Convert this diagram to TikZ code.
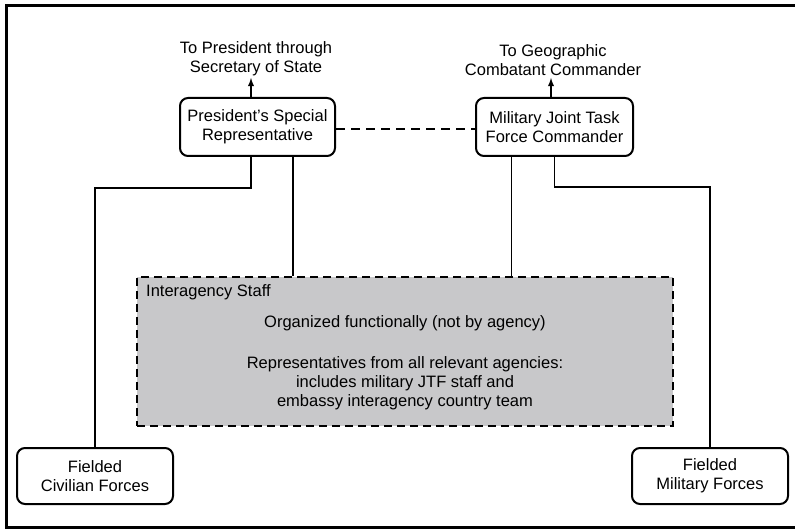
\documentclass[tikz,border=0pt]{standalone}
\usepackage{fontspec}
\setmainfont{Liberation Sans}
\usepackage{tikz}
\usetikzlibrary{shapes}
\usetikzlibrary{calc}
\usetikzlibrary{arrows}
\usetikzlibrary{positioning}

\definecolor{staffgray}{RGB}{200,200,202}

\begin{document}
\begin{tikzpicture}[x=1pt, y=-1pt,
		font=\fontsize{16.5}{19.2}\selectfont,
		box/.style={draw, rounded corners=8pt, line width=2pt, align=center, inner sep=0pt},
		link/.style={line width=1.8pt},
		label/.style={align=center, inner sep=2pt}]
				\useasboundingbox (0,0) rectangle (795,529);
				% Frame
				\draw[line width=2.5pt] (797,5.5) -- (6.5,5.5) -- (6.5,527.5) -- (797,527.5);
				
				% Nodes
				\node[box, minimum width=155pt, minimum height=58pt] (psr) at (257.5,127) {President's Special\\Representative};
				\node[box, minimum width=157pt, minimum height=58pt] (jtf) at (554.5,127) {Military Joint Task\\Force Commander};
				\node[box, minimum width=156pt, minimum height=56pt] (civ) at (95,476) {Fielded\\Civilian Forces};
				\node[box, minimum width=156pt, minimum height=56pt] (mil) at (710,476) {Fielded\\Military Forces};
				
				\node[label, anchor=south] (pres) at (256,78) {To President through\\Secretary of State};
				\node[label, anchor=south] (gcc) at (553,78) {To Geographic\\Combatant Commander};
				
				% Interagency staff
				\node[draw, fill=staffgray, line width=2.8pt, dash pattern=on 8pt off 5pt, minimum width=536pt, minimum height=149pt, inner sep=0pt] (staff) at (405,351.5) {};
				\node[anchor=base west, inner sep=0pt] (stafftitle) at (146,297) {Interagency Staff};
				\node[anchor=base, inner sep=0pt] (org) at (405,327) {Organized functionally (not by agency)};
				\node[label] (reps) at (405,383.5) {Representatives from all relevant agencies:\\includes military JTF staff and\\embassy interagency country team};
				
				% Connectors
				\draw[link, -latex] ([xshift=-6.5pt]psr.north) -- ([xshift=-6.5pt]psr.north |- pres.south);
				\draw[link, -latex] ([xshift=-3.5pt]jtf.north) -- ([xshift=-3.5pt]jtf.north |- gcc.south);
				\draw[link, dash pattern=on 9pt off 6pt] ([yshift=-2pt]psr.east) -- ([yshift=-2pt]jtf.west);
				\draw[link] ([xshift=-6.5pt]psr.south) -- ++(0,31) -| (civ.north);
				\draw[link] ([xshift=35.5pt]psr.south) -- ([xshift=35.5pt]psr.south |- staff.north);
				\draw[link] ([xshift=-43pt]jtf.south) -- ([xshift=-43pt]jtf.south |- staff.north);
				\draw[link] ([xshift=0pt]jtf.south) -- ++(0,30) -| (mil.north);
\end{tikzpicture}
\end{document}
